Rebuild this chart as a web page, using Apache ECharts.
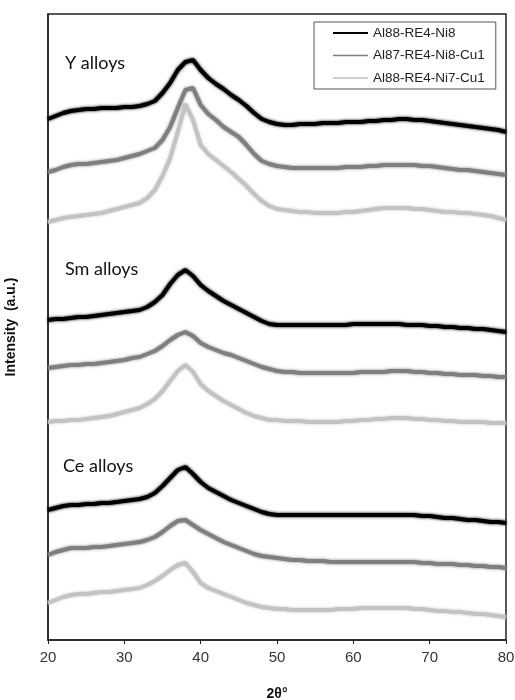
<!DOCTYPE html>
<html>
<head>
<meta charset="utf-8">
<script src="https://cdn.jsdelivr.net/npm/echarts@6/dist/echarts.min.js"></script>
<style>
  html, body { margin: 0; padding: 0; background: #fff; }
  #chart { width: 515px; height: 700px; }
</style>
</head>
<body>
<div id="chart"></div>
<script>
// 2theta values (degrees)
var theta = [20,21,22,23,24,25,26,27,28,29,30,31,32,33,34,35,36,37,38,39,40,
  41,42,43,44,45,46,47,48,49,50,51,52,53,54,55,56,57,58,59,60,
  61,62,63,64,65,66,67,68,69,70,71,72,73,74,75,76,77,78,79,80];

var names = ['Al88-RE4-Ni8', 'Al87-RE4-Ni8-Cu1', 'Al88-RE4-Ni7-Cu1'];
var colors = ['#000000', '#7f7f7f', '#c3c3c3'];

// intensity (a.u., offset stacked)
// Y alloys
var yNi8 = [521,524,527,529,530,531,531,532,532,532,533,533,534,536,539,547,557,570,578,580,570,
  562,556,551,545,540,534,527,521,518,516,515,515,516,516,516,517,517,517,518,518,
  518,519,519,520,520,521,521,520,520,519,518,517,516,515,514,513,512,511,510,508];
var yCu1 = [468,470,473,475,476,476,477,478,479,480,482,484,486,489,492,500,513,532,550,552,535,
  526,520,513,508,503,495,486,479,476,474,473,472,472,472,472,472,472,472,473,473,
  473,474,474,475,475,475,475,475,474,474,473,472,471,470,470,469,468,467,466,465];
var yNi7 = [418,420,422,423,424,425,426,427,429,431,433,435,437,442,450,464,482,508,536,520,495,
  486,480,474,468,461,454,446,439,434,431,430,429,428,428,427,427,427,427,428,428,
  429,430,431,432,432,432,432,431,431,430,429,428,428,427,427,426,425,424,422,420];
// Sm alloys
var smNi8 = [320,321,321,322,323,323,324,325,326,327,328,329,330,333,338,345,356,365,370,364,355,
  349,344,339,335,331,327,323,319,316,315,315,315,315,315,315,315,315,315,315,316,
  316,316,316,316,316,316,315,315,315,314,314,313,313,312,312,311,311,310,309,308];
var smCu1 = [272,273,274,275,275,276,276,277,278,279,280,282,283,286,289,294,300,305,308,304,297,
  293,290,287,285,282,279,276,273,271,269,268,268,267,267,267,267,267,267,267,267,
  268,268,268,268,269,269,269,268,268,267,267,266,266,265,265,265,264,264,263,263];
var smNi7 = [218,219,219,220,220,221,222,223,224,226,228,230,232,236,241,249,259,269,275,268,256,
  249,244,239,235,231,227,224,222,220,220,219,219,219,218,218,218,218,218,219,219,
  220,220,221,221,222,222,222,221,221,220,220,219,219,218,218,218,218,217,217,217];
// Ce alloys
var ceNi8 = [130,132,134,135,135,136,136,137,137,138,139,140,141,143,147,154,162,170,173,166,158,
  152,148,144,140,137,134,131,128,126,125,125,125,125,125,125,125,125,125,125,125,
  125,125,125,125,125,125,125,125,124,124,123,122,122,121,120,120,119,118,118,117];
var ceCu1 = [85,88,90,92,92,92,93,93,94,95,96,97,98,100,103,108,114,119,120,115,110,
  106,102,98,95,92,89,86,84,83,82,81,80,80,79,79,79,78,78,78,78,
  78,78,78,78,78,78,78,78,77,77,76,76,76,75,75,74,74,73,73,72];
var ceNi7 = [37,40,43,45,46,46,47,48,48,49,50,51,52,55,59,64,70,75,77,68,57,
  52,49,46,43,40,37,35,33,32,31,31,30,30,30,30,30,30,31,31,31,
  32,32,32,32,32,32,32,31,31,30,29,29,28,28,27,26,26,25,24,23];

var groups = [
  { label: 'Y alloys', curves: [yNi8, yCu1, yNi7] },
  { label: 'Sm alloys', curves: [smNi8, smCu1, smNi7] },
  { label: 'Ce alloys', curves: [ceNi8, ceCu1, ceNi7] }
];

function pairs(arr) {
  return arr.map(function (v, i) { return [theta[i], v]; });
}

var series = [];
groups.forEach(function (g) {
  g.curves.forEach(function (c, k) {
    series.push({
      name: names[k],
      type: 'line',
      symbol: 'none',
      data: pairs(c),
      lineStyle: { color: colors[k], width: 4, shadowColor: colors[k], shadowBlur: 3 },
      itemStyle: { color: colors[k], opacity: 0 },
      z: 3 - k,
      animation: false
    });
  });
});

var chart = echarts.init(document.getElementById('chart'));
var option = {
  backgroundColor: '#fff',
  animation: false,
  grid: {
    left: 48, right: 9, top: 14, bottom: 60,
    outerBoundsMode: 'none',
    containLabel: false,
    show: true, borderColor: '#222', borderWidth: 1.5
  },
  legend: {
    data: [
      { name: names[0], lineStyle: { width: 2, color: colors[0], shadowBlur: 0 } },
      { name: names[1], lineStyle: { width: 1.5, color: colors[1], shadowBlur: 0 } },
      { name: names[2], lineStyle: { width: 1.5, color: colors[2], shadowBlur: 0 } }
    ],
    orient: 'vertical',
    left: 314,
    top: 22,
    padding: [4, 11, 4, 18],
    itemWidth: 35,
    itemHeight: 14,
    itemGap: 8.5,
    borderColor: '#555',
    borderWidth: 1,
    itemStyle: { opacity: 0 },
    textStyle: { fontFamily: 'Liberation Sans, Arial', fontSize: 13.5, color: '#222' }
  },
  xAxis: {
    type: 'value',
    min: 20, max: 80, interval: 10,
    name: '2θ°',
    nameLocation: 'middle',
    nameGap: 47,
    nameTextStyle: { fontFamily: 'Liberation Sans, Arial', fontSize: 14, fontWeight: 'bold', color: '#111' },
    axisLine: { show: true, lineStyle: { color: '#222', width: 1.5 } },
    axisTick: { show: true, length: 4, lineStyle: { color: '#222' } },
    axisLabel: { fontFamily: 'Liberation Sans, Arial', fontSize: 15, color: '#333', margin: 10 },
    splitLine: { show: false }
  },
  yAxis: {
    type: 'value',
    min: 0, max: 626,
    name: 'Intensity  (a.u.)',
    nameLocation: 'middle',
    nameGap: 30,
    nameTextStyle: { fontFamily: 'Liberation Sans, Arial', fontSize: 14, fontWeight: 'bold', color: '#111' },
    axisLine: { show: true, lineStyle: { color: '#222', width: 1.5 } },
    axisTick: { show: false },
    axisLabel: { show: false },
    splitLine: { show: false }
  },
  graphic: [
    { type: 'text', left: 65, top: 54, style: { text: groups[0].label, font: '18px Lato, "Open Sans", sans-serif', fill: '#111' } },
    { type: 'text', left: 65, top: 260, style: { text: groups[1].label, font: '18px Lato, "Open Sans", sans-serif', fill: '#111' } },
    { type: 'text', left: 63, top: 457, style: { text: groups[2].label, font: '18px Lato, "Open Sans", sans-serif', fill: '#111' } }
  ],
  series: series
};
chart.setOption(option);
</script>
</body>
</html>
